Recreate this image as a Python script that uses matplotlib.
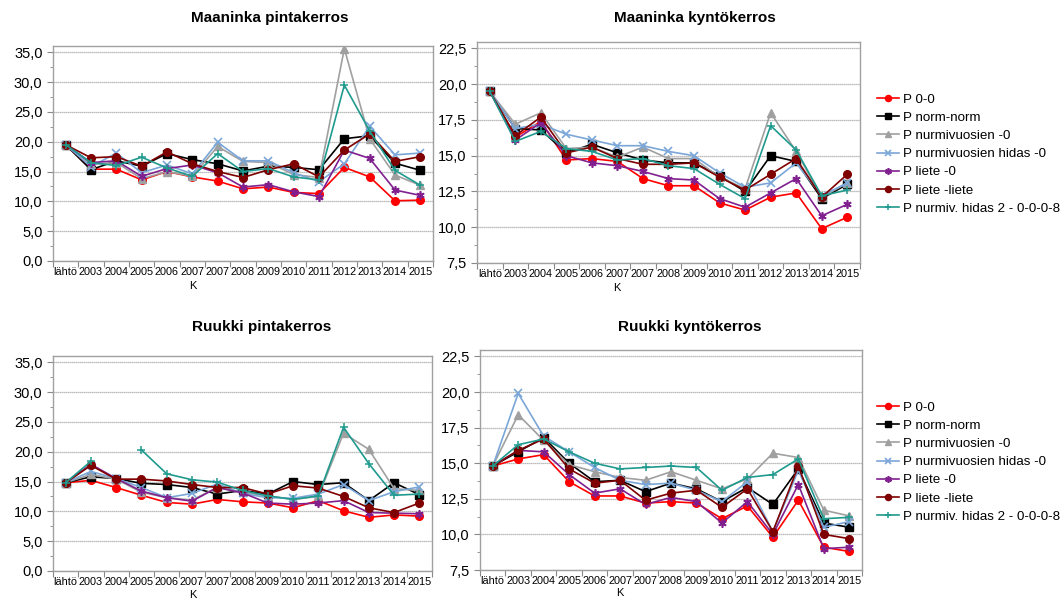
import numpy as np
import matplotlib
matplotlib.use("Agg")
import matplotlib.pyplot as plt
from matplotlib.ticker import MultipleLocator, FuncFormatter

plt.rcParams['font.family'] = ['Liberation Sans', 'DejaVu Sans']

categories = ["lähtö", "2003", "2004", "2005", "2006", "2007", "2007", "2008",
              "2009", "2010", "2011", "2012", "2013", "2014", "2015"]
series_names = ["P 0-0", "P norm-norm", "P nurmivuosien -0", "P nurmivuosien hidas -0",
                "P liete -0", "P liete -liete", "P nurmiv. hidas 2 - 0-0-0-8"]
nan = np.nan

# Maaninka pintakerros
mp_00 = [19.5, 15.4, 15.4, 13.6, 15.0, 14.1, 13.4, 12.1, 12.4, 11.5, 11.3, 15.7, 14.1, 10.1, 10.2]
mp_nn = [19.5, 15.3, 16.8, 15.9, 18.0, 17.0, 16.3, 15.1, 15.9, 15.7, 15.3, 20.5, 21.0, 16.4, 15.2]
mp_nv = [19.5, 16.2, 16.5, 13.8, 15.0, 14.2, 19.2, 16.7, 16.5, 14.5, 14.0, 35.6, 20.5, 14.4, 12.7]
mp_nh = [19.5, 15.8, 18.1, 14.8, 16.1, 14.6, 19.9, 16.8, 16.8, 14.8, 13.3, 16.3, 22.6, 17.8, 18.1]
mp_l0 = [19.5, 16.5, 16.8, 14.2, 15.5, 16.1, 14.8, 12.4, 12.8, 11.6, 10.8, 18.6, 17.2, 11.9, 11.0]
mp_ll = [19.5, 17.3, 17.5, 15.9, 18.3, 16.3, 15.0, 14.0, 15.3, 16.3, 14.1, 18.6, 21.3, 16.7, 17.5]
mp_h2 = [19.5, 16.5, 16.0, 17.4, 15.6, 14.2, 18.0, 15.0, 15.5, 14.1, 13.6, 29.5, 21.8, 15.2, 12.7]

# Maaninka kyntökerros
mk_00 = [19.5, 16.3, 17.4, 14.7, 14.8, 14.6, 13.4, 12.9, 12.9, 11.7, 11.2, 12.1, 12.4, 9.9, 10.7]
mk_nn = [19.5, 16.9, 16.8, 15.2, 15.8, 15.2, 14.7, 14.5, 14.5, 13.6, 12.5, 15.0, 14.6, 12.0, 13.0]
mk_nv = [19.5, 17.2, 18.0, 15.5, 15.6, 14.9, 15.6, 14.8, 14.8, 13.5, 12.7, 18.0, 15.3, 12.1, 13.1]
mk_nh = [19.5, 16.9, 17.2, 16.5, 16.1, 15.7, 15.7, 15.3, 15.0, 13.8, 12.8, 13.1, 14.5, 12.2, 13.1]
mk_l0 = [19.5, 16.1, 17.3, 15.0, 14.5, 14.3, 13.9, 13.4, 13.3, 12.0, 11.4, 12.4, 13.4, 10.8, 11.6]
mk_ll = [19.5, 16.4, 17.7, 15.2, 15.6, 14.8, 14.4, 14.4, 14.5, 13.5, 12.6, 13.7, 14.8, 12.1, 13.7]
mk_h2 = [19.5, 16.0, 16.7, 15.5, 15.3, 14.7, 14.8, 14.3, 14.1, 13.0, 12.0, 17.1, 15.4, 12.2, 12.6]

# Ruukki pintakerros
rp_00 = [14.8, 15.2, 14.0, 12.7, 11.5, 11.2, 12.0, 11.6, 11.4, 10.6, 11.8, 10.1, 9.0, 9.4, 9.2]
rp_nn = [14.8, 15.8, 15.5, 14.7, 14.5, 14.0, 12.9, 13.5, 12.9, 15.0, 14.5, 14.8, 11.8, 14.8, 12.8]
rp_nv = [14.8, 16.2, 15.4, 13.2, 12.3, 11.9, 14.0, 13.2, 12.6, 12.0, 12.5, 23.1, 20.4, 13.8, 13.5]
rp_nh = [14.8, 16.7, 15.5, 14.0, 12.3, 13.0, 14.6, 13.0, 12.3, 12.2, 12.9, 14.5, 11.8, 13.3, 14.1]
rp_l0 = [14.8, 17.9, 15.5, 13.4, 12.3, 11.7, 14.0, 13.1, 11.4, 11.2, 11.4, 11.8, 9.8, 9.7, 9.6]
rp_ll = [14.8, 17.7, 15.4, 15.4, 15.1, 14.5, 14.0, 14.0, 12.9, 14.3, 13.9, 12.5, 10.6, 9.8, 11.4]
rp_h2 = [14.8, 18.4, nan, 20.3, 16.3, 15.3, 14.9, 13.5, 12.6, 12.0, 12.6, 24.1, 18.0, 12.7, 12.9]

# Ruukki kyntökerros
rk_00 = [14.8, 15.3, 15.6, 13.7, 12.7, 12.7, 12.2, 12.3, 12.2, 11.1, 12.0, 9.8, 12.4, 9.1, 8.8]
rk_nn = [14.8, 15.8, 16.8, 15.0, 13.7, 13.8, 13.0, 13.6, 13.2, 12.3, 13.3, 12.1, 14.6, 10.8, 10.5]
rk_nv = [14.8, 18.4, 16.6, 14.9, 14.4, 14.0, 13.8, 14.4, 13.8, 13.2, 13.9, 15.7, 15.4, 11.7, 11.3]
rk_nh = [14.8, 19.9, 16.9, 15.8, 14.7, 13.8, 13.5, 13.6, 13.1, 12.3, 13.7, 10.2, 14.5, 10.5, 10.9]
rk_l0 = [14.8, 15.9, 15.8, 14.2, 12.9, 13.2, 12.1, 12.6, 12.3, 10.8, 12.3, 10.0, 13.5, 9.0, 9.1]
rk_ll = [14.8, 15.9, 16.7, 14.6, 13.6, 13.8, 12.4, 12.9, 13.1, 11.9, 13.2, 10.2, 14.8, 10.0, 9.7]
rk_h2 = [14.8, 16.3, 16.7, 15.8, 15.0, 14.6, 14.7, 14.8, 14.7, 13.1, 14.0, 14.2, 15.3, 11.1, 11.2]

panels = [
    ("Maaninka pintakerros", [mp_00, mp_nn, mp_nv, mp_nh, mp_l0, mp_ll, mp_h2], (0, 35), 5.0),
    ("Maaninka kyntökerros", [mk_00, mk_nn, mk_nv, mk_nh, mk_l0, mk_ll, mk_h2], (7.5, 22.5), 2.5),
    ("Ruukki pintakerros", [rp_00, rp_nn, rp_nv, rp_nh, rp_l0, rp_ll, rp_h2], (0, 35), 5.0),
    ("Ruukki kyntökerros", [rk_00, rk_nn, rk_nv, rk_nh, rk_l0, rk_ll, rk_h2], (7.5, 22.5), 2.5),
]

styles = [
    dict(color='#ff0000', marker='o', ms=5.5, mfc='#ff0000', mec='#ff0000'),
    dict(color='#000000', marker='s', ms=5.5, mfc='#000000', mec='#000000'),
    dict(color='#a0a0a0', marker='^', ms=5.5, mfc='#a0a0a0', mec='#a0a0a0'),
    dict(color='#7aa6d8', marker='x', ms=5.5, mew=1.2),
    dict(color='#80208f', marker=(6, 2, 0), ms=6, mew=1.2),
    dict(color='#7f0000', marker='o', ms=5.5, mfc='#7f0000', mec='#7f0000'),
    dict(color='#1f9a8e', marker='+', ms=6, mew=1.1),
]

W, H = 1063, 599
fig = plt.figure(figsize=(W / 100, H / 100), dpi=100)

# axes rectangles in pixel coords: left, top, right, bottom
rects = [(53, 46, 433, 261), (477, 42, 860, 263), (53, 356, 432, 571), (480, 350, 862, 570)]
titles_xy = [(270, 18), (695, 18), (262, 327), (690, 327)]
klabel_xy = [(193, 286), (617, 288), (193, 595), (620, 593)]

x = np.arange(len(categories))
axes = []
for (title, data, (ymin, ymax), step), (l, t, r, b), (tx, ty), (kx, ky) in zip(panels, rects, titles_xy, klabel_xy):
    ax = fig.add_axes([l / W, 1 - b / H, (r - l) / W, (b - t) / H])
    axes.append(ax)
    span = ymax - ymin
    ax.set_ylim(ymin, ymax + span * 0.03)
    ax.set_xlim(-0.5, len(categories) - 0.5)
    for vals, st in zip(data, styles):
        ax.plot(x, vals, lw=1.2, **st)
    ax.yaxis.set_major_locator(MultipleLocator(step))
    ax.yaxis.set_minor_locator(MultipleLocator(step / 2))
    ax.yaxis.set_major_formatter(FuncFormatter(lambda v, p: f"{v:.1f}".replace('.', ',')))
    ax.set_yticks(np.arange(ymin, ymax + 0.001, step))
    ax.grid(axis='y', which='major', color='#a8a8a8', lw=0.9, ls=(0, (1, 0.6)))
    ax.set_axisbelow(True)
    ax.set_xticks(np.arange(-0.5, len(categories), 1.0))
    ax.set_xticklabels([])
    ax.set_xticks(x, minor=True)
    ax.set_xticklabels(categories, minor=True, fontsize=7.8)
    ax.tick_params(axis='x', which='minor', length=0, pad=4)
    ax.tick_params(axis='x', which='major', length=4, color='#888888', direction='out')
    ax.tick_params(axis='y', which='major', labelsize=10.5, length=4, color='#888888', direction='out')
    ax.tick_params(axis='y', which='minor', length=2, color='#888888', direction='out')
    for s in ax.spines.values():
        s.set_color('#a0a0a0')
        s.set_linewidth(1.0)
    fig.text(tx / W, 1 - ty / H, title, ha='center', va='center', fontsize=11, fontweight='bold')
    fig.text(kx / W, 1 - ky / H, "K", ha='center', va='center', fontsize=8)

handles = axes[0].get_lines()
for ly in (88, 396):
    fig.legend(handles, series_names, loc='upper left', bbox_to_anchor=(872 / W, 1 - ly / H),
               frameon=False, fontsize=9.6, handlelength=1.6, handletextpad=0.3,
               labelspacing=0.44, borderaxespad=0, markerscale=0.8)

fig.savefig("out.png", dpi=100)
